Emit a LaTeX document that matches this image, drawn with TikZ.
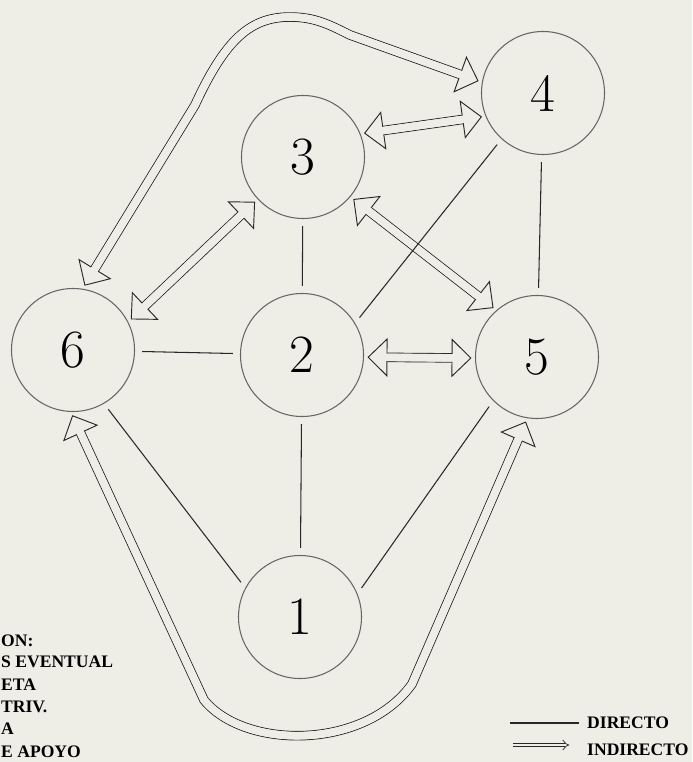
\documentclass[tikz,border=0pt]{standalone}
\usepackage{fontspec}
\usetikzlibrary{arrows.meta}
\newfontfamily\legfont{Liberation Serif}
\definecolor{paper}{RGB}{238,238,230}
\definecolor{ink}{RGB}{40,40,40}

\begin{document}
\begin{tikzpicture}[x=0.03cm, y=-0.03cm,
    site/.style={draw=black!60, line width=0.9pt, circle, minimum size=3.69cm, inner sep=0pt, font=\fontsize{46}{48}\selectfont},
    direct/.style={draw=ink, line width=0.9pt, shorten >=6pt, shorten <=6pt},
    indirect/.style={draw=ink, line width=0.8pt, double=paper, double distance=6.5pt,
        {Triangle[open, line width=0.8pt, length=17pt, width=33pt]}-{Triangle[open, line width=0.8pt, length=17pt, width=33pt]},
        shorten >=3pt, shorten <=3pt,
        postaction={draw=paper, double=paper, line width=0.1pt, double distance=6.1pt, arrows=-, shorten >=18pt, shorten <=18pt}},
    legtext/.style={anchor=base west, inner sep=0pt, font=\legfont\bfseries\fontsize{15}{17}\selectfont}]
    \path[use as bounding box, fill=paper] (0,0) rectangle (692,762);
    \clip (0,0) rectangle (692,762);

    % sites
    \node[site] (n1) at (300,617) {1};
    \node[site] (n2) at (302,355) {2};
    \node[site] (n3) at (303,157) {3};
    \node[site] (n4) at (543,93) {4};
    \node[site] (n5) at (537,357) {5};
    \node[site] (n6) at (73,350) {6};

    % indirect links
    \draw[indirect] (n3.22) -- (n4.202);
    \draw[indirect] (n3.223) -- (n6.27);
    \draw[indirect] (n3.320) -- (n5.131);
    \draw[indirect] (n2.-2) -- (n5.181);
    \draw[indirect] (n6.81) -- (195,105) .. controls (225,40) and (250,17) .. (290,17)
        .. controls (315,17) and (330,25) .. (350,35) -- (n4.170);
    \draw[indirect] (n6.268) -- (204,700) .. controls (245,750) and (365,750) .. (412,684) -- (n5.261);

    % direct links
    \draw[direct] (n3) -- (n2);
    \draw[direct] (n6) -- (n2);
    \draw[direct] (n2) -- (n1);
    \draw[direct] (n4) -- (n5);
    \draw[direct] (n6.-60) -- (n1.152);
    \draw[direct] (n5.225) -- (n1.22);
    \draw[direct] (n2.31) -- (n4.228);

    % legend
    \node[legtext] (c1) at (1,646) {ON:};
    \node[legtext] (c2) at (1,667) {S EVENTUAL};
    \node[legtext] (c3) at (1,690) {ETA};
    \node[legtext] (c4) at (1,712) {TRIV.};
    \node[legtext] (c5) at (1,734) {A};
    \node[legtext] (c6) at (1,757) {E APOYO};

    \node[legtext] (ldir) at (587,728) {DIRECTO};
    \node[legtext] (lind) at (587,755) {INDIRECTO};
    \coordinate (ldirs) at (510,723);
    \coordinate (linds) at (513,745);
    \draw[ink, line width=0.9pt, shorten >=7pt] (ldirs) -- (ldirs -| ldir.west);
    \draw[ink, line width=0.6pt, double=paper, double distance=2.5pt, -{Implies}, shorten >=15pt] (linds) -- (linds -| lind.west);
\end{tikzpicture}
\end{document}
